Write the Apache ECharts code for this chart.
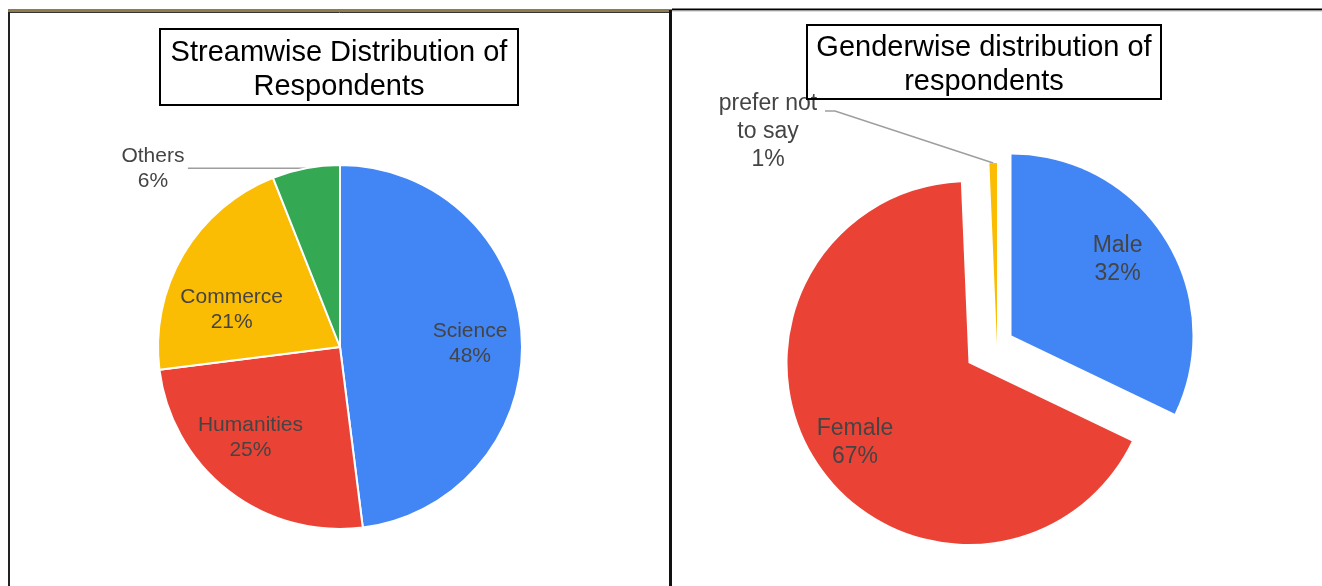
<!DOCTYPE html>
<html>
<head>
<meta charset="utf-8">
<title>Respondents</title>
<script src="https://cdn.jsdelivr.net/npm/echarts@6/dist/echarts.min.js"></script>
<style>
  html, body { margin: 0; padding: 0; background: #fff; }
  #chart { width: 1322px; height: 586px; }
</style>
</head>
<body>
<div id="chart"></div>
<script>
// streamwise data
const STREAM_NAMES = ['Science', 'Humanities', 'Commerce', 'Others']
const STREAM_VALUES = [48, 25, 21, 6]
const STREAM_COLORS = ['#4285f4', '#ea4335', '#fbbc04', '#34a853']

// genderwise data
const GENDER_NAMES = ['Male', 'Female', 'prefer not to say']
const GENDER_LABELS = ['Male', 'Female', 'prefer not\nto say']
const GENDER_VALUES = [96, 201, 2]
const GENDER_COLORS = ['#4285f4', '#ea4335', '#fbbc04']

const FONT = '"Liberation Sans", Arial, sans-serif'
const LABEL_COLOR = '#444'
const LINE_GREY = '#9e9e9e'

const LEFT_CENTER = [340, 347]
const RIGHT_CENTER = [968.5, 363]
// exploded slices get their own centres (Male pulled out, the 1% sliver nudged)
const GENDER_CENTERS = [[1011.5, 335.5], RIGHT_CENTER, [997, 344]]

// small hand tweaks so inside labels land where Sheets put them
const LABEL_NUDGE = {
  Science: [-6, 5], Humanities: [-6, -17], Commerce: [9, 32],
  Male: [-11, -2], Female: [2, 3],
}

const pct = (p) => Math.round(p.percent) + '%'

// push inside labels out from the centre, closer to where Sheets puts them
function pushOut(center, k, names, skip) {
  return function (p) {
    if (!p.labelRect || (skip && skip(p.dataIndex))) return {}
    const r = p.labelRect
    const lx = r.x + r.width / 2
    const ly = r.y + r.height / 2
    const n = LABEL_NUDGE[names[p.dataIndex]] || [0, 0]
    return { dx: (lx - center[0]) * (k - 1) + n[0], dy: (ly - center[1]) * (k - 1) + n[1] }
  }
}

const streamSeries = {
  type: 'pie',
  center: LEFT_CENTER,
  radius: 182,
  startAngle: 90,
  clockwise: true,
  silent: true,
  avoidLabelOverlap: false,
  itemStyle: { borderColor: '#fff', borderWidth: 2 },
  label: {
    position: 'inside',
    color: LABEL_COLOR,
    fontFamily: FONT,
    fontSize: 21,
    lineHeight: 25,
    formatter: (p) => p.name + '\n' + pct(p),
  },
  labelLayout: pushOut(LEFT_CENTER, 1.45, STREAM_NAMES, (i) => STREAM_NAMES[i] === 'Others'),
  data: STREAM_NAMES.map((n, i) => {
    const item = { name: n, value: STREAM_VALUES[i], itemStyle: { color: STREAM_COLORS[i] } }
    if (n === 'Others') {
      item.label = {
        position: 'outside',
        distanceToLabelLine: 2,
        formatter: (p) => '{a|' + p.name + '}\n{a|' + pct(p) + '}',
        rich: { a: { width: 66, align: 'center', fontSize: 21, lineHeight: 25, color: LABEL_COLOR, fontFamily: FONT } },
      }
      item.labelLine = { show: true, length: 0, length2: 118, lineStyle: { color: LINE_GREY, width: 1.5 } }
    }
    return item
  }),
}

// rich styles for the 1% label: a blank first row lifts the guide anchor to the first text line
const prefRich = {
  sp: { lineHeight: 42, fontSize: 23, width: 114 },
  t: { width: 114, align: 'center', fontSize: 23, lineHeight: 28, color: LABEL_COLOR, fontFamily: FONT },
}

// one series per gender slice so each can sit at its own exploded centre
const genderSeries = GENDER_NAMES.map((_, s) => ({
  type: 'pie',
  center: GENDER_CENTERS[s],
  radius: 181,
  startAngle: 90,
  clockwise: true,
  silent: true,
  avoidLabelOverlap: false,
  label: {
    position: 'inside',
    color: LABEL_COLOR,
    fontFamily: FONT,
    fontSize: 23,
    lineHeight: 28,
    formatter: (p) => GENDER_LABELS[p.dataIndex] + '\n' + pct(p),
  },
  labelLayout: s === 2
    ? (p) => (p.dataIndex === 2 ? { x: 768, y: 111, align: 'center', verticalAlign: 'middle' } : {})
    : pushOut(GENDER_CENTERS[s], 1.48, GENDER_NAMES),
  data: GENDER_NAMES.map((n, i) => {
    const own = i === s
    const item = {
      name: n,
      value: GENDER_VALUES[i],
      itemStyle: { color: own ? GENDER_COLORS[i] : 'transparent', borderWidth: 0 },
      label: { show: own },
      labelLine: { show: false },
    }
    if (own && s === 2) {
      item.label = {
        show: true,
        position: 'outside',
        align: 'center',
        formatter: (p) => '{sp| }\n' + GENDER_LABELS[p.dataIndex].split('\n').concat(pct(p)).map((t) => '{t|' + t + '}').join('\n'),
        rich: prefRich,
      }
      item.labelLine = { show: true, length: 0, length2: 10, minTurnAngle: 0, lineStyle: { color: LINE_GREY, width: 1.5 } }
    }
    return item
  }),
}))

const titleText = { color: '#000', fontFamily: FONT, fontSize: 29, lineHeight: 34, fontWeight: 'normal' }

const chart = echarts.init(document.getElementById('chart'))
chart.setOption({
  animation: false,
  backgroundColor: '#fff',
  title: [
    {
      text: 'Streamwise Distribution of\nRespondents',
      left: 328, top: 29, textAlign: 'center',
      padding: [7, 11, 1, 11], borderColor: '#000', borderWidth: 2,
      textStyle: titleText,
    },
    {
      text: 'Genderwise distribution of\nrespondents',
      left: 974, top: 25, textAlign: 'center',
      padding: [6, 10, 0, 10], borderColor: '#000', borderWidth: 2,
      textStyle: titleText,
    },
  ],
  graphic: [
    // panel frames
    { type: 'rect', shape: { x: 8, y: 9, width: 664, height: 3 }, style: { fill: '#8b7d4e' }, silent: true },
    { type: 'line', shape: { x1: 8, y1: 12.5, x2: 671, y2: 12.5 }, style: { stroke: '#333', lineWidth: 1 }, silent: true },
    { type: 'line', shape: { x1: 9, y1: 12, x2: 9, y2: 586 }, style: { stroke: '#222', lineWidth: 2 }, silent: true },
    { type: 'line', shape: { x1: 670.5, y1: 10, x2: 670.5, y2: 586 }, style: { stroke: '#111', lineWidth: 3 }, silent: true },
    { type: 'line', shape: { x1: 672, y1: 9.5, x2: 1322, y2: 9.5 }, style: { stroke: '#000', lineWidth: 2 }, silent: true },
    { type: 'line', shape: { x1: 672, y1: 11, x2: 1322, y2: 11 }, style: { stroke: '#bbb', lineWidth: 1 }, silent: true },
  ],
  series: [streamSeries].concat(genderSeries),
})
</script>
</body>
</html>
